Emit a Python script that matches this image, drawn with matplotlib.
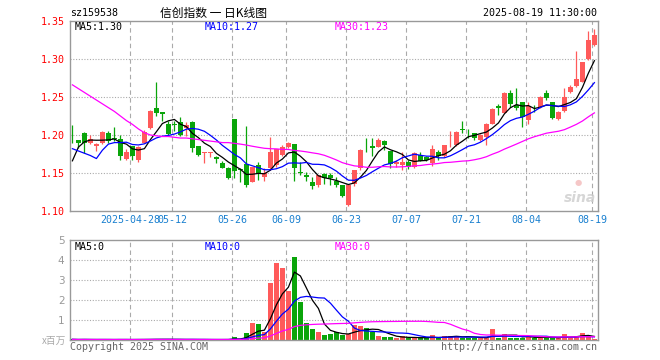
import numpy as np
import pandas as pd
import matplotlib
matplotlib.use("Agg")
import matplotlib.pyplot as plt

# daily candles, 2025-04-14 .. 2025-08-19 (88 trading days)
opens = [
    1.204, 1.194, 1.203, 1.190, 1.1855, 1.189, 1.202, 1.196, 1.195, 1.169,
    1.185, 1.1665, 1.190, 1.209, 1.236, 1.230, 1.2145, 1.214, 1.2167, 1.209,
    1.2175, 1.1855, 1.1765, 1.176, 1.1706, 1.1636, 1.156, 1.221, 1.155, 1.162,
    1.1385, 1.1605, 1.145, 1.156, 1.1605, 1.1737, 1.1838, 1.1882, 1.151, 1.1474,
    1.1386, 1.1342, 1.1482, 1.1474, 1.1395, 1.1342, 1.1079, 1.1355, 1.1561, 1.179,
    1.1855, 1.1847, 1.1925, 1.1789, 1.1618, 1.1605, 1.1649, 1.1575, 1.1737, 1.1715,
    1.1627, 1.1776, 1.1724, 1.1877, 1.1868, 1.2076, 1.2024, 1.2022, 1.1934, 1.1978,
    1.2145, 1.2382, 1.2294, 1.2557, 1.2395, 1.2439, 1.2197, 1.2366, 1.2364, 1.2548,
    1.2439, 1.2211, 1.2320, 1.2570, 1.2645, 1.2702, 1.2996, 1.3184]
closes = [
    1.2035, 1.190, 1.189, 1.195, 1.188, 1.204, 1.192, 1.195, 1.172, 1.177,
    1.173, 1.184, 1.204, 1.2316, 1.229, 1.227, 1.2017, 1.213, 1.2004, 1.213,
    1.1825, 1.1737, 1.177, 1.178, 1.168, 1.156, 1.143, 1.153, 1.1545, 1.134,
    1.1574, 1.1486, 1.1505, 1.178, 1.181, 1.1838, 1.189, 1.1561, 1.1505, 1.1443,
    1.1333, 1.1474, 1.143, 1.143, 1.1342, 1.1197, 1.1342, 1.154, 1.1803, 1.1785,
    1.1825, 1.1934, 1.1868, 1.1618, 1.1649, 1.1649, 1.1575, 1.1768, 1.1662, 1.1671,
    1.1811, 1.1724, 1.1868, 1.1885, 1.2044, 1.2072, 1.2020, 1.1956, 1.2000, 1.2145,
    1.2338, 1.2351, 1.2557, 1.2404, 1.2351, 1.2241, 1.2382, 1.2364, 1.2496, 1.2482,
    1.2219, 1.2307, 1.2496, 1.2636, 1.2732, 1.2956, 1.3250, 1.3316]
highs = [
    1.2136, 1.194, 1.204, 1.200, 1.189, 1.205, 1.205, 1.210, 1.200, 1.182,
    1.186, 1.185, 1.206, 1.233, 1.270, 1.230, 1.218, 1.219, 1.224, 1.2175,
    1.218, 1.186, 1.177, 1.178, 1.1723, 1.1662, 1.1583, 1.221, 1.156, 1.212,
    1.158, 1.165, 1.156, 1.198, 1.181, 1.1868, 1.1912, 1.1882, 1.165, 1.1518,
    1.1452, 1.1474, 1.150, 1.1496, 1.1452, 1.1342, 1.1342, 1.154, 1.1812, 1.1956,
    1.1956, 1.1956, 1.1934, 1.1789, 1.1671, 1.1781, 1.1671, 1.1781, 1.1781, 1.173,
    1.1868, 1.1803, 1.1873, 1.2057, 1.2048, 1.2189, 1.2075, 1.2031, 1.2013, 1.2154,
    1.2351, 1.2404, 1.257, 1.2592, 1.2614, 1.2439, 1.2439, 1.2395, 1.2513, 1.2592,
    1.2439, 1.2320, 1.2614, 1.2658, 1.3105, 1.2965, 1.3372, 1.339]
lows = [
    1.190, 1.183, 1.176, 1.188, 1.179, 1.188, 1.189, 1.192, 1.167, 1.1665,
    1.167, 1.165, 1.189, 1.208, 1.2245, 1.218, 1.200, 1.205, 1.199, 1.199,
    1.178, 1.173, 1.1635, 1.1706, 1.1627, 1.156, 1.1416, 1.143, 1.1385, 1.131,
    1.1385, 1.141, 1.140, 1.1535, 1.158, 1.1724, 1.183, 1.1399, 1.147, 1.1399,
    1.1289, 1.132, 1.136, 1.1342, 1.132, 1.1188, 1.1070, 1.133, 1.1535, 1.178,
    1.1728, 1.1838, 1.1800, 1.1561, 1.1583, 1.154, 1.1548, 1.1561, 1.1653, 1.166,
    1.1592, 1.1671, 1.1715, 1.1838, 1.186, 1.2022, 1.1956, 1.1930, 1.1920, 1.1864,
    1.2140, 1.2263, 1.2285, 1.2373, 1.2325, 1.2102, 1.2149, 1.2307, 1.2351, 1.2460,
    1.2210, 1.2200, 1.2307, 1.2557, 1.2636, 1.2693, 1.2987, 1.317]

# volume, in millions
volumes = [
    0.03, 0.02, 0.03, 0.02, 0.02, 0.03, 0.02, 0.02, 0.03, 0.02,
    0.02, 0.03, 0.03, 0.04, 0.04, 0.03, 0.03, 0.02, 0.03, 0.02,
    0.03, 0.02, 0.02, 0.02, 0.02, 0.03, 0.03, 0.14, 0.03, 0.37,
    0.87, 0.80, 0.39, 2.87, 3.87, 3.61, 2.46, 4.17, 1.90, 0.86,
    0.56, 0.41, 0.27, 0.32, 0.38, 0.23, 0.30, 0.73, 0.71, 0.58,
    0.39, 0.21, 0.14, 0.14, 0.08, 0.18, 0.12, 0.12, 0.08, 0.08,
    0.25, 0.08, 0.20, 0.20, 0.20, 0.12, 0.12, 0.12, 0.08, 0.12,
    0.55, 0.12, 0.30, 0.12, 0.12, 0.12, 0.20, 0.12, 0.12, 0.12,
    0.12, 0.08, 0.30, 0.12, 0.20, 0.35, 0.17, 0.05]

# moving averages at the left edge depend on days before the window
ma5_lead = [1.166, 1.184, 1.191, 1.1934]
ma10_lead = [1.182, 1.179, 1.176, 1.173, 1.169, 1.180, 1.188, 1.190, 1.190]
ma30_lead = [1.266, 1.261, 1.256, 1.251, 1.246, 1.241, 1.236, 1.231, 1.225, 1.219,
             1.214, 1.208, 1.203, 1.200, 1.199, 1.198, 1.198, 1.197, 1.196, 1.196,
             1.195, 1.194, 1.193, 1.192, 1.191, 1.190, 1.190, 1.189, 1.188]

tick_idx = [10, 17, 27, 36, 46, 56, 66, 76, 87]
tick_labels = ["2025-04-28", "05-12", "05-26", "06-09", "06-23",
               "07-07", "07-21", "08-04", "08-19"]

RED = "#ff5a5a"
GREEN = "#0aa50a"
GRID = "#aaaaaa"
FRAME = "#999999"
TICKBLUE = "#1a80d0"
MONO = "DejaVu Sans Mono"
W, H = 660, 360


def px(x, y):
    return x / W, 1 - y / H


def ma_line(values, n, lead):
    s = pd.Series(values).rolling(n).mean().to_numpy()
    s[:len(lead)] = lead
    return s


x = np.arange(len(closes))
o = np.array(opens)
c = np.array(closes)
colors = [RED if cc >= oo else GREEN for oo, cc in zip(o, c)]

fig = plt.figure(figsize=(6.6, 3.6), dpi=100)
ax = fig.add_axes([70 / W, 1 - 211 / H, 528 / W, 190 / H])
axv = fig.add_axes([70 / W, 1 - 340 / H, 528 / W, 100 / H])

for a in (ax, axv):
    a.set_xlim(-0.4, 87.6)
    for s in a.spines.values():
        s.set_color(FRAME)
        s.set_linewidth(1)
    a.set_xticks([])
    for t in tick_idx:
        a.axvline(t - 0.33, color=GRID, lw=0.8, ls=(0, (4, 3)), zorder=0)

# candles
ax.vlines(x, lows, highs, colors=colors, lw=0.9, zorder=2)
body = np.maximum(np.abs(c - o), 0.0005)
ax.bar(x, body, bottom=np.minimum(o, c), width=0.75, color=colors, lw=0, zorder=3)

ax.plot(x, ma_line(closes, 5, ma5_lead), color="black", lw=0.9, zorder=4)
ax.plot(x, ma_line(closes, 10, ma10_lead), color="#0000ff", lw=0.9, zorder=4)
ax.plot(x, ma_line(closes, 30, ma30_lead), color="#ff00ff", lw=0.9, zorder=4)

ax.set_ylim(1.10, 1.35)
yt = [1.10, 1.15, 1.20, 1.25, 1.30, 1.35]
ax.set_yticks(yt)
ax.set_yticklabels([f"{v:.2f}" for v in yt], color="red", fontsize=7.2, family=MONO)
ax.tick_params(axis="y", length=0, pad=4)
for v in yt[1:-1]:
    ax.axhline(v, color=GRID, lw=0.8, ls=(0, (1, 1.5)), zorder=0)

# volume
axv.bar(x, volumes, width=0.75, color=colors, lw=0, zorder=2)
axv.plot(x, pd.Series(volumes).rolling(5, min_periods=1).mean(), color="black", lw=0.9, zorder=4)
axv.plot(x, pd.Series(volumes).rolling(10, min_periods=1).mean(), color="#0000ff", lw=0.9, zorder=4)
axv.plot(x, pd.Series(volumes).rolling(30, min_periods=1).mean(), color="#ff00ff", lw=0.9, zorder=4)
axv.set_ylim(0, 5)
axv.set_yticks([1, 2, 3, 4, 5])
axv.set_yticklabels(["1", "2", "3", "4", "5"], color="#999999", fontsize=7.5)
axv.tick_params(axis="y", length=0, pad=4)
for v in [1, 2, 3, 4]:
    axv.axhline(v, color=GRID, lw=0.8, ls=(0, (1, 1.5)), zorder=0)

# date labels under the price panel
for t, lab in zip(tick_idx, tick_labels):
    ax.text(t - 0.33, 1.10 - 0.012, lab, ha="center", va="center", fontsize=7.2,
            family=MONO, color=TICKBLUE, clip_on=False)

# header texts
fig.text(*px(70, 13), "sz159538", fontsize=7.2, family=MONO, va="center", ha="left")
fig.text(*px(214, 13), "信创指数 一 日K线图", fontsize=8.5,
         family=["Noto Sans CJK SC", "DejaVu Sans"], va="center", ha="center")
fig.text(*px(597, 13), "2025-08-19 11:30:00", fontsize=7.2, family=MONO,
         va="center", ha="right")

fig.text(*px(75, 27), "MA5:1.30", fontsize=7.2, family=MONO, va="center", color="black")
fig.text(*px(205, 27), "MA10:1.27", fontsize=7.2, family=MONO, va="center", color="#0000ff")
fig.text(*px(335, 27), "MA30:1.23", fontsize=7.2, family=MONO, va="center", color="#ff00ff")
fig.text(*px(75, 247), "MA5:0", fontsize=7.2, family=MONO, va="center", color="black")
fig.text(*px(205, 247), "MA10:0", fontsize=7.2, family=MONO, va="center", color="#0000ff")
fig.text(*px(335, 247), "MA30:0", fontsize=7.2, family=MONO, va="center", color="#ff00ff")

fig.text(*px(66, 341), "x百万", fontsize=7, family=["Noto Sans CJK SC", "DejaVu Sans"],
         va="center", ha="right", color="#aaaaaa")
fig.text(*px(70, 347), "Copyright 2025 SINA.COM", fontsize=7.2, family=MONO,
         va="center", ha="left", color="#666666")
fig.text(*px(597, 347), "http://finance.sina.com.cn", fontsize=7.2, family=MONO,
         va="center", ha="right", color="#666666")

# watermark
fig.text(*px(596, 198), "sina", fontsize=10, fontweight="bold", style="italic",
         ha="right", va="center", color="#cccccc", alpha=0.8)
fig.text(*px(578, 182), "●", fontsize=6, ha="center", va="center", color="#f2b0b0", alpha=0.7)

fig.savefig("out.png", dpi=100)
